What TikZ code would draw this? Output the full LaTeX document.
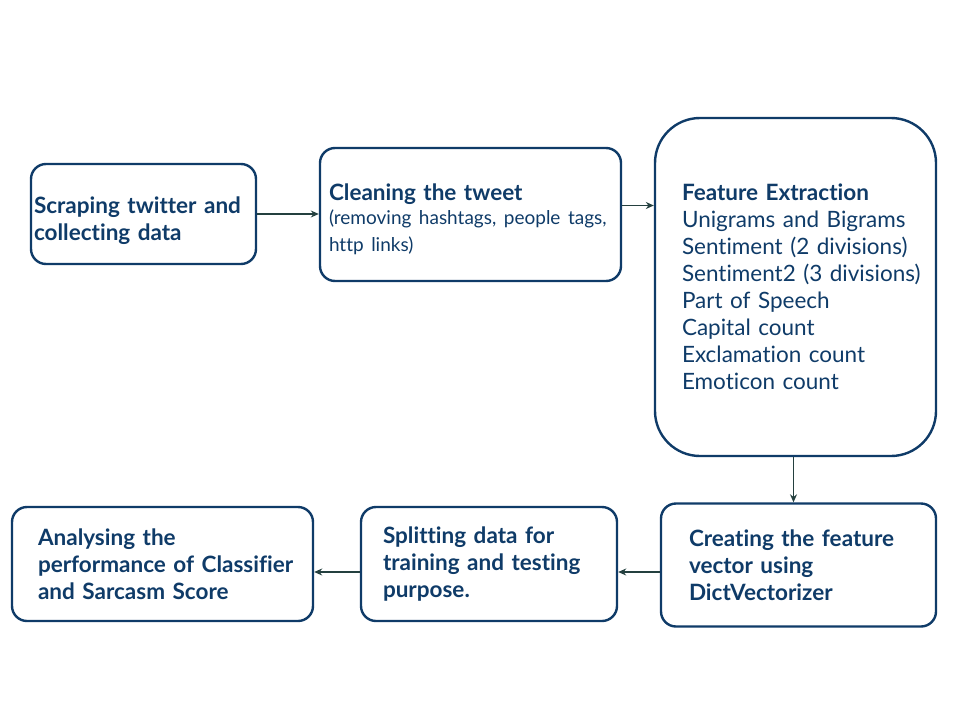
\documentclass[tikz,border=0pt]{standalone}
\usepackage{fontspec}
\setmainfont[Ligatures=NoCommon]{Lato}
\usetikzlibrary{arrows.meta}
\definecolor{boxblue}{HTML}{0F3B68}
\definecolor{arrowgray}{HTML}{24403F}
\tikzset{
  box/.style={draw=boxblue,line width=2.4pt,rounded corners=15pt,text=boxblue,
    align=left,font=\fontsize{22.5}{27}\selectfont,inner ysep=0pt},
  boldbox/.style={box,font=\fontsize{22.5}{27}\selectfont\bfseries}
}

\begin{document}
\begin{tikzpicture}[x=1pt,y=-1pt,flow/.style={draw=arrowgray,line width=1.2pt,-{Stealth[length=8pt,width=7pt]}}]
\useasboundingbox (0,0) rectangle (960,720);
\node[boldbox,minimum width=225pt,minimum height=100pt,inner xsep=3pt,text width=219pt] (scrape) at (143.5,214)
  {\rule{0pt}{30pt}Scraping twitter and\\collecting data};
\node[box,minimum width=301pt,minimum height=133pt,inner xsep=9pt,text width=283pt] (clean) at (470.5,214.5)
  {\rule{0pt}{26pt}{\bfseries Cleaning the tweet}\\[0pt]{\fontsize{19}{24}\selectfont (removing hashtags, people tags,\\http links)}};
\node[box,rounded corners=45pt,minimum width=281pt,minimum height=338pt,inner xsep=27pt,text width=227pt] (feature) at (795.5,287)
  {{\bfseries Feature Extraction}\\Unigrams and Bigrams\\\mbox{Sentiment (2 divisions)}\\\mbox{Sentiment2 (3 divisions)}\\Part of Speech\\Capital count\\Exclamation count\\Emoticon count};
\node[boldbox,minimum width=275pt,minimum height=123pt,inner xsep=28pt,text width=219pt] (vector) at (798.5,565)
  {Creating the feature\\vector using\\DictVectorizer};
\node[boldbox,minimum width=256pt,minimum height=114pt,inner xsep=22pt,text width=212pt] (split) at (489,564)
  {Splitting data for\\training and testing\\purpose.};
\node[boldbox,minimum width=301pt,minimum height=114pt,inner xsep=26pt,text width=249pt] (analyse) at (162.5,564)
  {Analysing the\\\mbox{performance of Classifier}\\and Sarcasm Score};
\draw[flow] (scrape.east) -- (scrape.east -| clean.west);
\draw[flow] ([yshift=9pt]clean.east) -- ([yshift=9pt]clean.east -| feature.west);
\draw[flow] ([xshift=-2pt]feature.south) -- ([xshift=-2pt]feature.south |- vector.north);
\draw[flow] ([yshift=-7pt]vector.west) -- ([yshift=-7pt]vector.west -| split.east);
\draw[flow] ([yshift=-8pt]split.west) -- ([yshift=-8pt]split.west -| analyse.east);
\end{tikzpicture}
\end{document}
